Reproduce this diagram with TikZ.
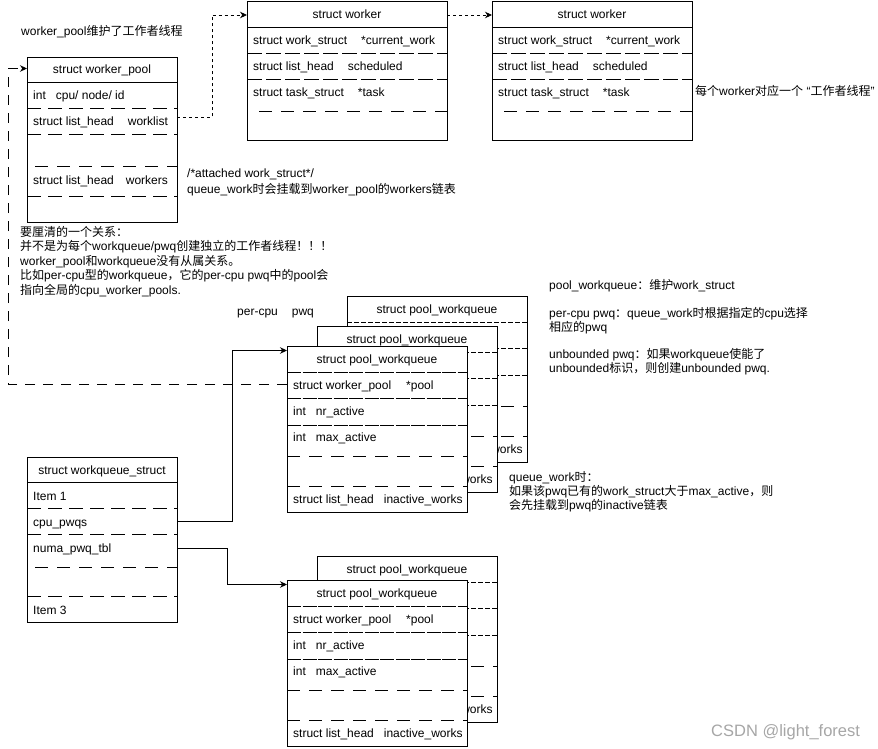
\documentclass[tikz,border=0pt]{standalone}
\usepackage{fontspec}
\setmainfont{Liberation Sans}
\newfontfamily\zhfont{Noto Sans CJK SC}
\newcommand\zh[1]{{\zhfont #1}}
\usetikzlibrary{arrows.meta}

\tikzset{
  every node/.style={font=\fontsize{12}{14.4}\selectfont},
  box/.style={draw, fill=white, line width=0.9pt, anchor=north west, inner sep=0pt},
  lbl/.style={anchor=base west, inner sep=0pt},
  hdr/.style={anchor=base, inner sep=0pt},
  solidsep/.style={line width=0.9pt},
  rowdash/.style={line width=0.9pt, dash pattern=on 14pt off 7pt},
  rowdashL/.style={line width=0.9pt, dash pattern=on 15pt off 4pt},
  insetdash/.style={line width=0.9pt, dash pattern=on 13pt off 9pt},
  nearsolid/.style={line width=0.9pt, dash pattern=on 14pt off 1.5pt},
  backsep/.style={line width=0.9pt, dash pattern=on 5pt off 2pt},
  finedash/.style={line width=0.9pt, dash pattern=on 3pt off 3pt},
  longdash/.style={line width=0.9pt, dash pattern=on 10pt off 8pt},
  conn/.style={-{Stealth[length=7pt,width=6.5pt]}},
}

% common frame of a pool_workqueue box: name, x, y, separator style
\newcommand\pwqframe[4]{%
 \node[box, minimum width=180pt, minimum height=166pt] (#1) at (#2,#3) {};
 \begin{scope}[shift={(#2,#3)}]
 \node[hdr] (#1-h) at (90,17) {struct pool\_workqueue};
 \draw[#4] (0,26) -- (180,26);
 \draw[#4] (0,52) -- (180,52);
 \draw[#4] (0,79) -- (180,79);
 \draw[insetdash] (0,110) -- (180,110);
 \draw[insetdash] (0,140.5) -- (180,140.5);
 \node[lbl] (#1-inact) at (6,157) {struct list\_head\hspace{10pt}inactive\_works};
 \coordinate (#1-in) at (0,4.5);
 \coordinate (#1-poolL) at (0,38);
 \end{scope}}

% front pool_workqueue box with all its fields: name, x, y
\newcommand\pwqbox[3]{%
 \pwqframe{#1}{#2}{#3}{nearsolid}
 \begin{scope}[shift={(#2,#3)}]
 \node[lbl] (#1-pool) at (6,43) {struct worker\_pool\hspace{15pt}*pool};
 \node[lbl] (#1-nr) at (6,69) {int\hspace{10pt}nr\_active};
 \node[lbl] (#1-max) at (6,95) {int\hspace{10pt}max\_active};
 \end{scope}}

% worker box: name, x, y
\newcommand\workerbox[3]{%
 \node[box, minimum width=200pt, minimum height=139pt] (#1) at (#2,#3) {};
 \begin{scope}[shift={(#2,#3)}]
 \node[hdr] (#1-h) at (100,17) {struct worker};
 \draw[solidsep] (0,25.5) -- (200,25.5);
 \node[lbl] (#1-cur) at (6,43) {struct work\_struct\hspace{14pt}*current\_work};
 \draw[rowdashL] (0,51.5) -- (200,51.5);
 \node[lbl] (#1-sch) at (6,69) {struct list\_head\hspace{14pt}scheduled};
 \draw[rowdashL] (0,77.5) -- (200,77.5);
 \node[lbl] (#1-task) at (6,95) {struct task\_struct\hspace{14pt}*task};
 \draw[insetdash] (12,109.5) -- (200,109.5);
 \coordinate (#1-in) at (0,13.5);
 \coordinate (#1-out) at (200,13.5);
 \end{scope}}

\begin{document}
\begin{tikzpicture}[x=1pt,y=-1pt]
\useasboundingbox (0,0) rectangle (878,749);

% ---------- struct worker_pool ----------
\node[box, minimum width=150pt, minimum height=165pt] (wp) at (27,57) {};
\begin{scope}[shift={(27,57)}]
 \node[hdr] (wp-h) at (75,17) {struct worker\_pool};
 \draw[solidsep] (0,25.5) -- (150,25.5);
 \node[lbl] (wp-id) at (6,43) {int\hspace{10pt}cpu/ node/ id};
 \draw[rowdash] (0,51) -- (150,51);
 \node[lbl] (wp-wl) at (6,68.5) {struct list\_head\hspace{14pt}worklist};
 \draw[rowdash] (0,77.5) -- (150,77.5);
 \draw[insetdash] (8,109.5) -- (150,109.5);
 \node[lbl] (wp-wk) at (6,127) {struct list\_head\hspace{12pt}workers};
 \draw[rowdash] (0,139) -- (150,139);
 \coordinate (wp-wlout) at (150,60.5);
 \coordinate (wp-in) at (0,11.5);
\end{scope}

% ---------- workers ----------
\workerbox{wa}{247}{1.5}
\workerbox{wb}{492}{1.5}

% ---------- struct workqueue_struct ----------
\node[box, minimum width=150pt, minimum height=165pt] (wq) at (27,457) {};
\begin{scope}[shift={(27,457)}]
 \node[hdr] (wq-h) at (75,17) {struct workqueue\_struct};
 \draw[solidsep] (0,25.5) -- (150,25.5);
 \node[lbl] (wq-i1) at (6,43) {Item 1};
 \draw[rowdash] (0,51.5) -- (150,51.5);
 \node[lbl] (wq-cpuT) at (6,69) {cpu\_pwqs};
 \draw[rowdash] (0,77.5) -- (150,77.5);
 \node[lbl] (wq-numaT) at (6,95) {numa\_pwq\_tbl};
 \draw[insetdash] (8,110) -- (150,110);
 \draw[rowdash] (0,139) -- (150,139);
 \node[lbl] (wq-i3) at (6,157) {Item 3};
 \coordinate (wq-cpu) at (150,64);
 \coordinate (wq-numa) at (150,91.5);
\end{scope}

% ---------- per-cpu pwq stack ----------
\pwqframe{pc}{347}{296}{backsep}
\pwqframe{pb}{317}{326}{backsep}
\pwqbox{pa}{287}{346}

% ---------- unbound pwq stack ----------
\pwqframe{ub}{317}{556}{backsep}
\pwqbox{ua}{287}{580}

% ---------- connectors ----------
\draw[finedash, conn] (wp-wlout) -- ++(35,0) |- (wa-in);
\draw[finedash, conn] (wa-out) -- (wb-in);
\draw[solidsep, conn] (wq-cpu) -- ++(55,0) |- (pa-in);
\draw[solidsep, conn] (wq-numa) -- ++(50,0) |- (ua-in);
\draw[longdash, conn] (pa-poolL) -- ++(-279,0) |- (wp-in);

% ---------- free texts ----------
\node[lbl] (t1) at (21,36) {worker\_pool\zh{维护了工作者线程}};
\node[lbl] (t2) at (695,96) {\zh{每个}worker\zh{对应一个} “\zh{工作者线程}”};
\node[lbl] (t3a) at (187,178) {/*attached work\_struct*/};
\node[lbl] (t3b) at (187,193) {queue\_work\zh{时会挂载到}worker\_pool\zh{的}workers\zh{链表}};

\node[lbl] (t4a) at (20,236) {\zh{要厘清的一个关系：}};
\node[lbl] (t4b) at (20,250.6) {\zh{并不是为每个}workqueue/pwq\zh{创建独立的工作者线程！！！}};
\node[lbl] (t4c) at (20,265.2) {worker\_pool\zh{和}workqueue\zh{没有从属关系。}};
\node[lbl] (t4d) at (20,279.8) {\zh{比如}per-cpu\zh{型的}workqueue\zh{，它的}per-cpu pwq\zh{中的}pool\zh{会}};
\node[lbl] (t4e) at (20,294.4) {\zh{指向全局的}cpu\_worker\_pools.};

\node[lbl] (t5) at (237,315) {per-cpu\hspace{14pt}pwq};

\node[lbl] (t6) at (549,289) {pool\_workqueue\zh{：维护}work\_struct};
\node[lbl] (t7a) at (549,317) {per-cpu pwq\zh{：}queue\_work\zh{时根据指定的}cpu\zh{选择}};
\node[lbl] (t7b) at (549,331.4) {\zh{相应的}pwq};
\node[lbl] (t8a) at (549,358.5) {unbounded pwq\zh{：如果}workqueue\zh{使能了}};
\node[lbl] (t8b) at (549,372.9) {unbounded\zh{标识，则创建}unbounded pwq.};

\node[lbl] (t9a) at (509,481) {queue\_work\zh{时：}};
\node[lbl] (t9b) at (509,495.4) {\zh{如果该}pwq\zh{已有的}work\_struct\zh{大于}max\_active\zh{，则}};
\node[lbl] (t9c) at (509,509.8) {\zh{会先挂载到}pwq\zh{的}inactive\zh{链表}};

\node[lbl, text=black!35, font=\fontsize{16.5}{18}\selectfont] (wm) at (711,736) {CSDN @light\_forest};
\end{tikzpicture}
\end{document}
